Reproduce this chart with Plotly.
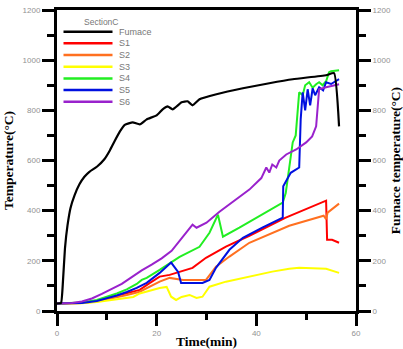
import plotly.graph_objects as go

# ---------------- data ----------------
furnace_t = [0, 0.8, 1.2, 1.6, 2.1, 2.7, 3.5, 4.5, 5.5, 6.5, 8.0, 9.5, 10.6, 11.5, 12.6, 13.6, 15.2, 16.6, 18.0, 20.0,
             21.2, 22.2, 23.2, 25.0, 26.2, 27.2, 28.6, 32.0, 37.3, 42.6, 47.3, 54.0, 55.6, 56.6]
furnace_v = [30, 32, 120, 250, 340, 410, 460, 505, 535, 555, 575, 605, 640, 675, 715, 742, 752, 744, 764, 780,
             804, 816, 804, 832, 836, 820, 844, 864, 888, 908, 924, 940, 948, 736]

s1_t = [0, 5, 8, 10, 12, 14, 16.6, 18.5, 20.6, 22.6, 24.6, 27.2, 29.9, 33.9, 38.6, 45.9, 54.0, 54.2, 55.2, 56.6]
s1_v = [30, 32, 40, 50, 60, 70, 84, 110, 137, 144, 157, 172, 212, 257, 300, 372, 440, 284, 284, 272]

s2_t = [0, 5, 8, 10, 12, 14, 16.6, 20.6, 22.6, 25.3, 29.9, 31.9, 34.6, 38.6, 46.6, 50.0, 53.5, 54.0, 54.3, 56.6]
s2_v = [30, 32, 38, 46, 54, 64, 77, 117, 132, 124, 124, 177, 217, 272, 340, 360, 380, 366, 392, 428]

s3_t = [0, 5, 8, 10, 12, 15.3, 16.6, 18.0, 20.6, 22.0, 22.9, 23.9, 25.0, 26.6, 28.0, 29.2, 30.6, 33.9, 38.6, 43.2,
        46.6, 48.6, 54.0, 56.6]
s3_v = [30, 31, 36, 42, 48, 56, 70, 78, 92, 96, 57, 44, 56, 64, 52, 57, 97, 117, 137, 157,
        168, 172, 168, 152]

s4_t = [0, 5, 8, 10, 12, 14, 16, 17, 18, 20.6, 24.6, 28.6, 30.6, 32.3, 33.3, 36.6, 40.0, 45.3, 45.9, 46.5, 46.9,
        47.3, 47.9, 48.3, 48.6, 49.3, 49.8, 50.6, 51.3, 52.0, 52.6, 53.3, 54.0, 54.6, 55.0, 56.6]
s4_v = [30, 34, 44, 56, 70, 86, 108, 124, 132, 164, 216, 256, 312, 384, 296, 332, 372, 432, 470, 560, 604,
        672, 700, 800, 872, 860, 900, 912, 890, 904, 912, 900, 916, 952, 956, 960]

s5_t = [0, 5, 8, 10, 12, 14, 16, 18, 20.6, 22.9, 24.3, 24.9, 29.2, 30.6, 31.9, 34.6, 37.3, 41.2, 45.3, 45.4, 46.9,
        48.6, 48.9, 49.3, 49.8, 50.3, 50.8, 51.3, 51.8, 52.6, 53.4, 54.0, 55.0, 56.6]
s5_v = [30, 32, 40, 50, 62, 76, 92, 112, 152, 193, 156, 112, 112, 124, 172, 244, 292, 332, 372, 497, 551,
        572, 764, 872, 800, 884, 820, 888, 860, 892, 880, 912, 905, 924]

s6_t = [0, 3, 5, 7, 9, 11, 13, 15, 17, 19, 21, 23, 25, 26.5, 27.2, 28.0, 28.4, 30.0, 32.6, 36.0, 38.6, 41.0, 42.0,
        42.6, 43.2, 44.0, 44.6, 46.0, 48.0, 50.0, 51.2, 52.0, 52.3, 52.6, 54.0, 56.6]
s6_v = [30, 32, 38, 50, 68, 88, 108, 135, 162, 185, 210, 240, 290, 330, 344, 332, 336, 352, 396, 444, 484, 530, 572,
        552, 584, 572, 600, 624, 644, 672, 696, 736, 832, 884, 892, 904]

legend_title = "SectionC"
names = ["Fumace", "S1", "S2", "S3", "S4", "S5", "S6"]
colors = ["#000000", "#ff0000", "#ff7020", "#ffff00", "#22ee22", "#0010e0", "#9922cc"]

x_ticks = [0, 20, 40, 60]
y_ticks = [0, 200, 400, 600, 800, 1000, 1200]

# ---------------- figure ----------------
W, H = 403, 349
L, R, T, B = 57, 47, 10, 38
pw, ph = W - L - R, H - T - B

fig = go.Figure()
series = [(s1_t, s1_v), (s2_t, s2_v), (s3_t, s3_v), (s4_t, s4_v), (s5_t, s5_v), (s6_t, s6_v)]
for (t, v), n, c in zip(series, names[1:], colors[1:]):
    fig.add_trace(go.Scatter(x=t, y=v, mode="lines", name=n, line=dict(color=c, width=2), showlegend=False))
fig.add_trace(go.Scatter(x=furnace_t, y=furnace_v, mode="lines", name=names[0], yaxis="y2",
                         line=dict(color=colors[0], width=2.2, shape="spline", smoothing=0.4), showlegend=False))

tickfont = dict(family="Arial, Liberation Sans", size=8, color="#929292")
titlefont = dict(family="Liberation Serif, Times New Roman", size=13.5, color="black", weight="bold")
axis_common = dict(showgrid=False, zeroline=False, showline=True, linecolor="black", linewidth=3,
                   ticks="outside", ticklen=12, tickwidth=2.5, tickcolor="black", tickfont=tickfont,
                   automargin=False)

fig.update_layout(
    width=W, height=H, margin=dict(l=L, r=R, t=T, b=B),
    paper_bgcolor="white", plot_bgcolor="white", showlegend=False,
    xaxis=dict(range=[0, 60], tickvals=x_ticks, mirror=True,
               minor=dict(dtick=10, ticklen=6, tickwidth=2.5, tickcolor="black", ticks="outside"),
               title=dict(text="Time(min)", font=titlefont, standoff=2), **axis_common),
    yaxis=dict(range=[0, 1200], tickvals=y_ticks,
               minor=dict(dtick=100, ticklen=7, tickwidth=2.5, tickcolor="black", ticks="outside"),
               title=dict(text="Temperature(°C)", font=titlefont, standoff=6), **axis_common),
    yaxis2=dict(range=[0, 1200], tickvals=y_ticks, overlaying="y", side="right",
                minor=dict(dtick=100, ticklen=7, tickwidth=2.5, tickcolor="black", ticks="outside"),
                title=dict(text="Furnace temperature(°C)", font=titlefont, standoff=4), **axis_common),
)

# ---------------- hand-drawn legend ----------------
def px2x(px):
    return (px - L) / pw

def py2y(py):
    return 1 - (py - T) / ph

lx0, lx1, ltx = 63.5, 112.5, 116.5
y0, dy = 31.7, 11.67
fig.add_annotation(x=px2x(101.7), y=py2y(21.7), xref="paper", yref="paper", text=legend_title,
                   showarrow=False, xanchor="center", yanchor="middle",
                   font=dict(family="Arial, Liberation Sans", size=8.5, color="#777777"))
for i, (n, c) in enumerate(zip(names, colors)):
    yy = py2y(y0 + i * dy)
    fig.add_shape(type="line", xref="paper", yref="paper", x0=px2x(lx0), x1=px2x(lx1), y0=yy, y1=yy,
                  line=dict(color=c, width=2.5))
    fig.add_annotation(x=px2x(ltx), y=yy, xref="paper", yref="paper", text=n, showarrow=False,
                       xanchor="left", yanchor="middle",
                       font=dict(family="Arial, Liberation Sans", size=9, color="#777777"))

fig.write_html("out.html")
